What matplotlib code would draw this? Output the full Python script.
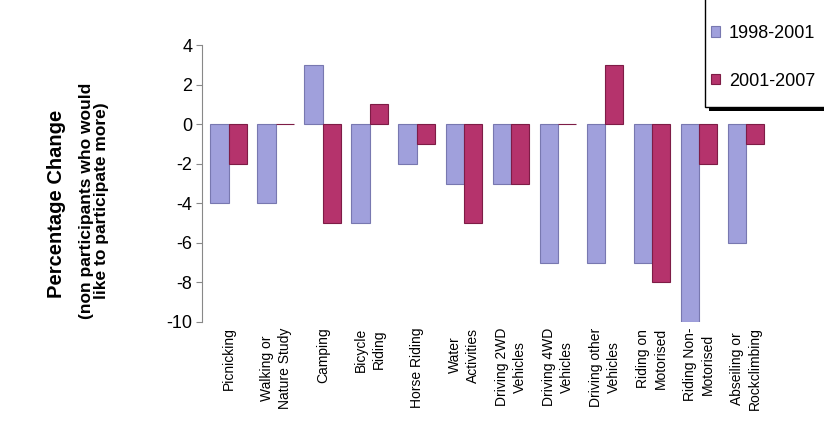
import numpy as np
import matplotlib
matplotlib.use("Agg")
import matplotlib.pyplot as plt
from matplotlib.patches import Rectangle

# data
categories = ["Picnicking", "Walking or\nNature Study", "Camping", "Bicycle\nRiding",
              "Horse Riding", "Water\nActivities", "Driving 2WD\nVehicles",
              "Driving 4WD\nVehicles", "Driving other\nVehicles", "Riding on\nMotorised",
              "Riding Non-\nMotorised", "Abseiling or\nRockclimbing"]
change_1998_2001 = [-4, -4, 3, -5, -2, -3, -3, -7, -7, -7, -10, -6]
change_2001_2007 = [-2, 0, -5, 1, -1, -5, -3, 0, 3, -8, -2, -1]
series_labels = ["1998-2001", "2001-2007"]
y_ticks = [4, 2, 0, -2, -4, -6, -8, -10]

plt.rcParams['font.family'] = ['Liberation Sans', 'DejaVu Sans']

W, H = 824, 422
fig = plt.figure(figsize=(W / 100, H / 100), dpi=100)
ax = fig.add_axes([0.245, 0.237, 0.693, 0.656])

x = np.arange(len(categories))
w = 0.39
blue, blue_edge = '#a0a0dc', '#7878b0'
red, red_edge = '#b5336c', '#7e1c46'

ax.bar(x - w / 2, change_1998_2001, w, color=blue, edgecolor=blue_edge,
       linewidth=0.8, label=series_labels[0])
ax.bar(x + w / 2, change_2001_2007, w, color=red, edgecolor=red_edge,
       linewidth=0.8, label=series_labels[1])

ax.set_xlim(-0.57, len(categories) - 1 + 0.57)
ax.set_ylim(-10, 4)
ax.set_yticks(y_ticks)
ax.set_yticklabels([str(t) for t in y_ticks], fontsize=13)
ax.set_xticks(x)
ax.set_xticklabels(categories, rotation=90, fontsize=10, ha='center', va='top',
                   linespacing=1.4)
ax.tick_params(axis='x', length=0, pad=4)
ax.tick_params(axis='y', length=4, color='#888888', pad=3)

for side in ['top', 'right', 'bottom']:
    ax.spines[side].set_visible(False)
ax.spines['left'].set_color('#888888')

# y axis title, built from two text pieces
fig.text(56 / W, 1 - 204 / H, "Percentage Change", rotation=90,
         fontsize=14.5, fontweight='bold', ha='center', va='center')
fig.text(94 / W, 1 - 201 / H,
         "(non participants who would\nlike to participate more)", rotation=90,
         fontsize=12.5, fontweight='bold', ha='center', va='center',
         linespacing=1.05)

# legend box runs off the top right corner, with a black drop shadow
box_x0, box_y1, shadow = 705, 107, 4
fig.patches.append(Rectangle(((box_x0 + shadow) / W, 1 - (box_y1 + shadow) / H), 1.0, 1.0,
                             transform=fig.transFigure, facecolor='black',
                             edgecolor='none', zorder=5))
fig.patches.append(Rectangle((box_x0 / W, 1 - box_y1 / H), 1.0, 1.0,
                             transform=fig.transFigure, facecolor='white',
                             edgecolor='black', linewidth=1.0, zorder=6))

leg = fig.legend(loc='upper left', bbox_to_anchor=(711 / W, 1 - 25 / H),
                 fontsize=13, frameon=False, borderaxespad=0, borderpad=0,
                 labelspacing=1.7, handlelength=0.5, handleheight=0.5,
                 handletextpad=0.5)
leg.set_zorder(7)

fig.savefig("out.png", dpi=100)
